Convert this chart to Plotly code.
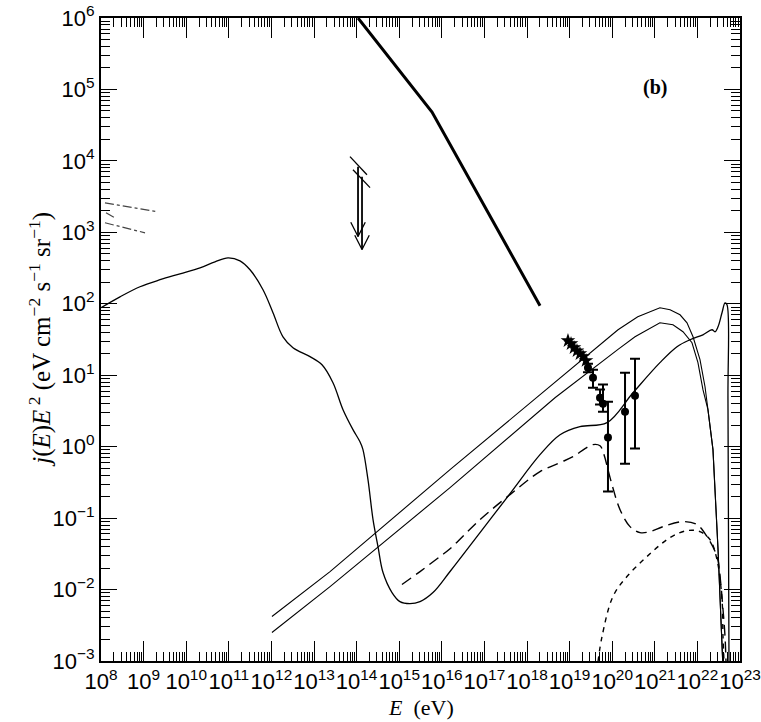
import numpy as np
import plotly.graph_objects as go

# ---------------- data ----------------
# thin solid curve with the bump at 1e11 eV and the rise to 1e22.7 eV
solid_E = [1.0e8, 2.79e8, 8.22e8, 2.43e9, 7.14e9, 2.11e10, 4.74e10, 9.57e10, 1.83e11, 3.15e11,
           6.35e11, 1.09e12, 1.87e12, 3.21e12, 8.05e12, 1.54e13, 2.79e13, 4.80e13, 8.22e13, 1.20e14,
           1.41e14, 1.85e14, 2.43e14, 3.18e14, 4.17e14, 6.78e14, 1.04e15, 1.79e15, 3.08e15, 6.21e15,
           1.56e16, 7.89e16, 3.99e17, 2.02e18, 5.96e18, 1.75e19, 7.55e19, 3.08e20, 1.32e21, 3.32e21,
           6.70e21, 1.35e22, 2.20e22, 2.59e22, 3.05e22, 3.78e22, 4.45e22, 4.95e22, 5.22e22, 5.52e22]
solid_F = [88, 125, 173, 217, 263, 319, 386, 440, 399, 299,
           157, 75, 34.5, 24.3, 18.2, 14.0, 7.85, 3.29, 1.73, 1.17,
           0.908, 0.345, 0.0953, 0.0399, 0.0173, 0.00908, 0.00679, 0.00637, 0.00679, 0.00908,
           0.0179, 0.0627, 0.220, 0.773, 1.47, 1.91, 2.17, 5.69, 15.0, 25.1,
           31.4, 36.8, 43.3, 40.6, 47.7, 74.8, 103, 96.8, 4.5, 0.0008]

# two thin straight-ish lines with cut-offs
upper_E = [1.03e12, 2.38e13, 1.56e16, 4.54e18, 1.37e20, 3.98e20, 1.32e21, 2.28e21, 3.91e21, 5.70e21,
           7.89e21, 1.15e22, 1.51e22, 1.77e22, 2.32e22, 3.05e22, 3.78e22, 3.98e22]
upper_F = [0.00419, 0.01786, 0.476, 8.11, 43.3, 66, 88, 82.4, 70.1, 54.2,
           34.5, 16.5, 6.90, 3.29, 0.908, 0.0363, 0.00145, 0.0008]
lower_E = [1.03e12, 2.38e13, 1.56e16, 4.54e18, 1.37e20, 3.43e20, 1.32e21, 2.67e21, 4.59e21, 7.46e21,
           1.03e22, 1.35e22, 1.77e22, 2.32e22, 3.05e22, 3.78e22, 3.98e22]
lower_F = [0.00251, 0.0110, 0.267, 4.84, 23.0, 34.5, 54.2, 50.8, 40.6, 28.5,
           15.0, 6.27, 3.29, 0.908, 0.0363, 0.00145, 0.0008]

# long-dashed curve
ldash_E = [1.16e15, 3.08e15, 9.08e15, 1.56e16, 7.89e16, 3.99e17, 2.02e18, 5.96e18, 1.20e19, 2.30e19,
           3.54e19, 5.18e19, 6.43e19, 7.96e19, 9.89e19, 1.52e20, 2.62e20, 4.50e20, 7.71e20, 1.56e21,
           4.59e21, 9.79e21, 1.68e22, 2.88e22, 3.40e22, 3.99e22, 4.45e22, 4.69e22]
ldash_F = [0.01175, 0.01786, 0.0290, 0.0372, 0.0953, 0.213, 0.447, 0.597, 0.724, 0.938,
           1.07, 1.03, 0.773, 0.476, 0.294, 0.132, 0.0760, 0.0627, 0.0647, 0.0760,
           0.0893, 0.0811, 0.0551, 0.0290, 0.0152, 0.00525, 0.00220, 0.00098]

# short-dashed curve
sdash_E = [4.65e19, 5.77e19, 1.04e20, 2.22e20, 6.56e20, 2.28e21, 5.70e21, 1.15e22, 1.98e22, 2.88e22,
           3.78e22, 3.99e22, 4.21e22]
sdash_F = [0.00098, 0.00220, 0.00798, 0.0152, 0.0290, 0.0533, 0.0668, 0.0647, 0.0500, 0.0263,
           0.00724, 0.00220, 0.00098]

# thick line
thick_E = [1.08e14, 5.89e15, 2.02e18]
thick_F = [1.0e6, 4.84e4, 93.8]

# dash-dot limit segments at the left
dd1_E, dd1_F = [1.24e8, 2.18e9], [2590, 1935]
dd2_E, dd2_F = [1.24e8, 1.08e9], [1360, 985]
dd3_E, dd3_F = [1.31e8, 2.13e8], [1875, 1596]

# upper-limit arrows (E, top, bottom) and their slanted bars
arrow_E = [1.08e14, 1.34e14]
arrow_top = [8300, 6010]
arrow_bot = [873, 575]
bar1_E, bar1_F = [7.0e13, 1.75e14], [11460, 6410]
bar2_E, bar2_F = [8.22e13, 2.07e14], [7530, 4230]

# data: stars
star_E = [9.16e18, 1.08e19, 1.27e19, 1.49e19, 1.75e19, 2.07e19, 2.43e19]
star_F = [30.4, 27.6, 24.3, 22.0, 20.0, 18.2, 16.0]
# data: filled circles with error bars
pt_E = [2.70e19, 3.54e19, 5.18e19, 6.08e19, 7.96e19, 2.00e20, 3.43e20]
pt_F = [12.7, 9.2, 4.84, 3.99, 1.34, 3.09, 5.16]
pt_hi = [14.5, 11.9, 6.3, 7.4, 4.26, 10.8, 17.0]
pt_lo = [11.0, 6.7, 3.9, 3.09, 0.235, 0.578, 0.94]

x_exps = list(range(8, 24))
y_exps = list(range(-3, 7))

# ---------------- figure ----------------
fig = go.Figure()
thin = dict(color="black", width=1.3)

fig.add_trace(go.Scatter(x=solid_E, y=solid_F, mode="lines", line=thin, line_shape="spline"))
fig.add_trace(go.Scatter(x=upper_E, y=upper_F, mode="lines", line=dict(color="black", width=1.1)))
fig.add_trace(go.Scatter(x=lower_E, y=lower_F, mode="lines", line=dict(color="black", width=1.1)))
fig.add_trace(go.Scatter(x=ldash_E, y=ldash_F, mode="lines", line_shape="spline",
                         line=dict(color="black", width=1.4, dash="11px,6px")))
fig.add_trace(go.Scatter(x=sdash_E, y=sdash_F, mode="lines", line_shape="spline",
                         line=dict(color="black", width=1.4, dash="5px,5px")))
fig.add_trace(go.Scatter(x=thick_E, y=thick_F, mode="lines", line=dict(color="black", width=3)))
for ex, fy in [(dd1_E, dd1_F), (dd2_E, dd2_F), (dd3_E, dd3_F)]:
    fig.add_trace(go.Scatter(x=ex, y=fy, mode="lines",
                             line=dict(color="#444", width=1.2, dash="dashdot")))
for ex, fy in [(bar1_E, bar1_F), (bar2_E, bar2_F)]:
    fig.add_trace(go.Scatter(x=ex, y=fy, mode="lines", line=dict(color="black", width=1.3)))

# arrows: shaft + open V head (head size in log decades)
head_dx, head_dy = 0.17, 0.2
for e, t, b in zip(arrow_E, arrow_top, arrow_bot):
    le, lt, lb = np.log10(e), np.log10(t), np.log10(b)
    fig.add_trace(go.Scatter(x=[e, e], y=[t, b], mode="lines",
                             line=dict(color="black", width=1.8)))
    fig.add_trace(go.Scatter(x=10 ** np.array([le - head_dx, le, le + head_dx]),
                             y=10 ** np.array([lb + head_dy, lb, lb + head_dy]),
                             mode="lines", line=dict(color="black", width=1.3)))

fig.add_trace(go.Scatter(x=star_E, y=star_F, mode="markers",
                         marker=dict(symbol="star", size=11, color="black")))
fig.add_trace(go.Scatter(
    x=pt_E, y=pt_F, mode="markers",
    marker=dict(symbol="circle", size=8, color="black"),
    error_y=dict(type="data", symmetric=False,
                 array=[h - f for h, f in zip(pt_hi, pt_F)],
                 arrayminus=[f - l for f, l in zip(pt_F, pt_lo)],
                 color="black", thickness=2, width=5)))

annotations = []
annotations.append(dict(x=np.log10(1.0e21), y=np.log10(1.05e5), xref="x", yref="y",
                        text="<b>(b)</b>", showarrow=False,
                        font=dict(family="Liberation Serif", size=20, color="black")))
annotations.append(dict(x=-0.095, y=0.5, xref="paper", yref="paper", textangle=-90,
                        text="<i>j</i>(<i>E</i>)<i>E</i><sup> 2</sup> (eV cm<sup>−2</sup> s<sup>−1</sup> sr<sup>−1</sup>)",
                        showarrow=False, xanchor="center", yanchor="middle",
                        font=dict(family="Liberation Serif", size=25, color="black")))
annotations.append(dict(x=0.5, y=-0.072, xref="paper", yref="paper",
                        text="<i>E</i>  (eV)", showarrow=False, yanchor="middle",
                        font=dict(family="Liberation Serif", size=22, color="black")))

axis_common = dict(type="log", showgrid=False, zeroline=False, showline=True,
                   linecolor="black", linewidth=2, mirror="ticks", ticks="inside",
                   tickcolor="black", tickwidth=1.2, tickangle=0, automargin=False,
                   tickfont=dict(family="Liberation Sans", size=22, color="black"),
                   minor=dict(ticks="inside", dtick="D1", ticklen=9, tickcolor="black",
                              tickwidth=1.2, showgrid=False))

fig.update_xaxes(**axis_common, range=[8, 23], ticklen=20, ticklabelstandoff=0,
                 tickmode="array", tickvals=[10.0 ** k for k in x_exps],
                 ticktext=[f"10<sup>{k}</sup>" for k in x_exps])
fig.update_yaxes(**axis_common, range=[-3, 6], ticklen=16,
                 tickmode="array", tickvals=[10.0 ** k for k in y_exps],
                 ticktext=[f"10<sup>{str(k).replace('-', '−')}</sup>" for k in y_exps])

fig.update_layout(width=761, height=722, showlegend=False,
                  plot_bgcolor="white", paper_bgcolor="white",
                  margin=dict(l=101, r=21, t=18, b=61),
                  annotations=annotations)

fig.write_html("out.html", config={"displayModeBar": False},
               post_script="document.body.style.margin='0';")
